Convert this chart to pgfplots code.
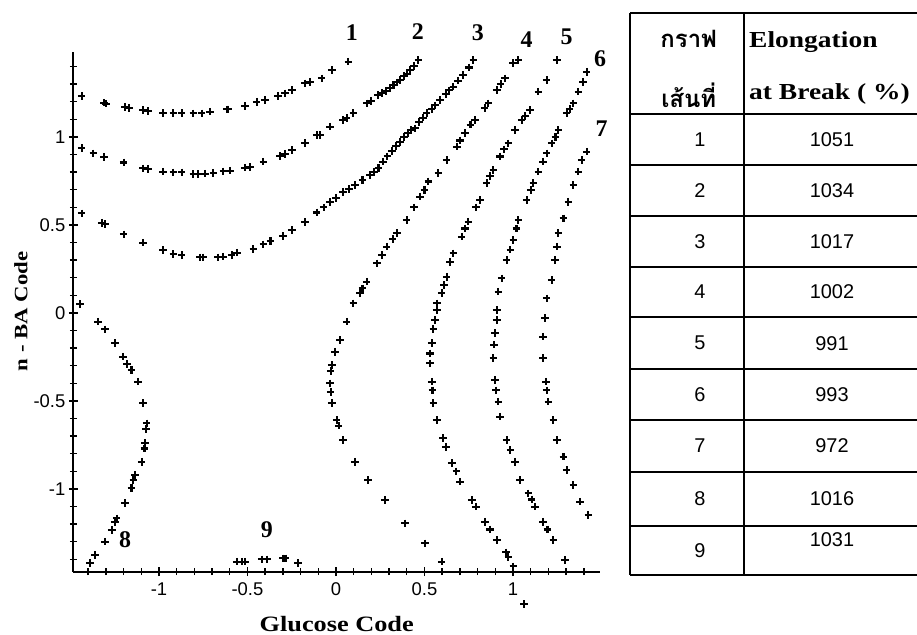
\documentclass[border=0pt]{standalone}
\usepackage{pgfplots}
\pgfplotsset{compat=1.18}
\usepackage{fontspec}
\setmainfont{Liberation Serif}
\newfontfamily\arialf{Liberation Sans}
\newfontfamily\wideserif[FakeStretch=1.2]{Liberation Serif}
\newfontfamily\thaifont[Script=Thai]{Loma}

\pgfplotsset{
  cont/.style={only marks, mark=+, mark size=3.8bp, black, line width=2.1bp,
    mark options={line width=2.1bp}},
}

\begin{document}
\begin{tikzpicture}
\useasboundingbox (0,0) rectangle (917bp,635bp);
\clip (0,0) rectangle (917bp,635bp);
\begin{axis}[
  at={(73.3bp,63.3bp)}, anchor=south west,
  scale only axis, width=526.7bp, height=519.7bp,
  xmin=-1.484, xmax=1.4915, ymin=-1.47, ymax=1.483,
  axis lines=left, axis line style={line width=1.8bp, -},
  xtick={-1,-0.5,0,0.5,1}, xticklabels={-1,-0.5,0,0.5,1},
  ytick={-1,-0.5,0,0.5,1}, yticklabels={-1,-0.5,0,0.5,1},
  minor xtick={-1.4,-1.3,-1.2,-1.1,-0.9,-0.8,-0.7,-0.6,-0.4,-0.3,-0.2,-0.1,0.1,0.2,0.3,0.4,0.6,0.7,0.8,0.9,1.1,1.2,1.3,1.4},
  minor ytick={-1.4,-1.3,-1.2,-1.1,-0.9,-0.8,-0.7,-0.6,-0.4,-0.3,-0.2,-0.1,0.1,0.2,0.3,0.4,0.6,0.7,0.8,0.9,1.1,1.2,1.3,1.4},
  tick align=center, major tick length=9bp, minor tick length=7bp,
  every tick/.style={black, line width=1.4bp},
  tick label style={font=\arialf\fontsize{18.5}{20}\selectfont},
  xticklabel style={yshift=-3bp},
  clip=false,
]
% contour 1 (1051)
\addplot[cont] table {
-1.437 1.233
-1.311 1.195
-1.300 1.190
-1.192 1.172
-1.170 1.166
-1.089 1.153
-1.061 1.148
-0.976 1.135
-0.919 1.135
-0.872 1.135
-0.806 1.134
-0.759 1.134
-0.712 1.144
-0.618 1.157
-0.608 1.157
-0.514 1.176
-0.448 1.200
-0.401 1.210
-0.326 1.233
-0.288 1.248
-0.250 1.267
-0.175 1.305
-0.147 1.314
-0.081 1.333
-0.024 1.381
0.070 1.428
};
% contour 2 (1034)
\addplot[cont] table {
-1.437 0.936
-1.371 0.907
-1.310 0.888
-1.200 0.855
-1.089 0.822
-1.061 0.818
-0.976 0.803
-0.919 0.799
-0.872 0.799
-0.806 0.790
-0.778 0.790
-0.740 0.792
-0.693 0.797
-0.636 0.805
-0.599 0.809
-0.514 0.826
-0.485 0.829
-0.410 0.860
-0.316 0.892
-0.288 0.905
-0.250 0.926
-0.175 0.966
-0.109 1.011
-0.090 1.011
-0.034 1.059
0.041 1.097
0.060 1.108
0.098 1.135
0.173 1.191
0.200 1.205
0.239 1.239
0.260 1.250
0.280 1.262
0.305 1.277
0.325 1.295
0.345 1.310
0.362 1.324
0.385 1.345
0.400 1.360
0.418 1.380
0.440 1.405
0.465 1.438
};
% contour 3 (1017)
\addplot[cont] table {
-1.437 0.566
-1.324 0.513
-1.305 0.505
-1.200 0.447
-1.089 0.400
-0.976 0.358
-0.919 0.335
-0.872 0.330
-0.768 0.316
-0.750 0.316
-0.665 0.316
-0.636 0.320
-0.590 0.330
-0.560 0.343
-0.467 0.362
-0.410 0.390
-0.370 0.410
-0.298 0.4375
-0.250 0.470
-0.175 0.516
-0.109 0.571
-0.070 0.600
-0.034 0.632
0.000 0.655
0.041 0.689
0.075 0.705
0.107 0.727
0.150 0.755
0.192 0.784
0.215 0.800
0.240 0.825
0.267 0.860
0.290 0.890
0.315 0.920
0.340 0.950
0.362 0.973
0.385 1.000
0.405 1.022
0.426 1.040
0.446 1.049
0.470 1.085
0.490 1.110
0.512 1.135
0.540 1.160
0.560 1.180
0.588 1.210
0.620 1.245
0.640 1.265
0.663 1.286
0.690 1.320
0.719 1.352
0.750 1.395
0.776 1.438
};
% contour 4 (1002)
\addplot[cont] table {
1.030 1.438
1.000 1.420
0.955 1.333
0.930 1.300
0.908 1.267
0.861 1.191
0.840 1.165
0.785 1.097
0.760 1.070
0.729 1.021
0.700 0.980
0.682 0.945
0.625 0.869
0.578 0.794
0.522 0.747
0.500 0.700
0.475 0.661
0.440 0.600
0.399 0.528
0.343 0.453
0.320 0.420
0.286 0.377
0.260 0.330
0.230 0.282
0.173 0.178
0.150 0.140
0.136 0.112
0.098 0.055
0.060 -0.049
0.023 -0.153
-0.006 -0.220
-0.024 -0.295
-0.030 -0.330
-0.034 -0.400
-0.030 -0.450
-0.024 -0.513
0.004 -0.608
0.015 -0.640
0.041 -0.722
0.107 -0.845
0.182 -0.949
0.277 -1.0625
0.390 -1.195
0.503 -1.309
0.597 -1.413
};
% contour 5 (991)
\addplot[cont] table {
1.247 1.438
1.190 1.324
1.143 1.258
1.096 1.153
1.070 1.120
1.049 1.097
1.011 1.040
0.974 0.964
0.950 0.930
0.927 0.889
0.889 0.8125
0.870 0.780
0.851 0.737
0.814 0.642
0.790 0.600
0.748 0.519
0.730 0.480
0.710 0.434
0.663 0.339
0.645 0.290
0.625 0.206
0.610 0.160
0.597 0.112
0.569 0.017
0.569 0.055
0.559 -0.040
0.550 -0.090
0.541 -0.172
0.531 -0.230
0.531 -0.286
0.541 -0.390
0.545 -0.440
0.550 -0.513
0.569 -0.608
0.606 -0.712
0.620 -0.760
0.654 -0.854
0.680 -0.900
0.701 -0.958
0.767 -1.0625
0.790 -1.100
0.842 -1.186
0.870 -1.230
0.908 -1.290
0.960 -1.360
0.974 -1.385
1.002 -1.440
1.062 -1.653
};
% contour 6 (993)
\addplot[cont] table {
1.416 1.371
1.397 1.314
1.369 1.258
1.341 1.191
1.320 1.160
1.303 1.135
1.256 1.040
1.240 1.000
1.218 0.964
1.190 0.907
1.170 0.860
1.143 0.803
1.115 0.737
1.100 0.700
1.077 0.642
1.030 0.528
1.020 0.480
1.002 0.415
0.985 0.360
0.964 0.301
0.936 0.197
0.917 0.121
0.908 0.017
0.908 -0.040
0.898 -0.115
0.894 -0.180
0.889 -0.257
0.898 -0.380
0.905 -0.440
0.917 -0.504
0.927 -0.589
0.964 -0.722
0.985 -0.780
1.011 -0.845
1.040 -0.949
1.087 -1.025
1.105 -1.060
1.124 -1.100
1.171 -1.186
1.195 -1.230
1.228 -1.290
1.294 -1.403
};
% contour 7 (972)
\addplot[cont] table {
1.416 0.917
1.388 0.869
1.369 0.803
1.341 0.727
1.313 0.632
1.285 0.538
1.256 0.453
1.247 0.377
1.237 0.301
1.218 0.1875
1.190 0.083
1.181 -0.030
1.171 -0.134
1.171 -0.257
1.186 -0.390
1.190 -0.440
1.200 -0.504
1.228 -0.608
1.247 -0.722
1.285 -0.816
1.303 -0.892
1.341 -0.977
1.379 -1.072
1.426 -1.148
};
% contour 8 (1016)
\addplot[cont] table {
-1.446 0.050
-1.343 -0.049
-1.305 -0.093
-1.249 -0.172
-1.202 -0.248
-1.180 -0.290
-1.155 -0.324
-1.117 -0.390
-1.089 -0.513
-1.070 -0.627
-1.074 -0.660
-1.079 -0.740
-1.082 -0.770
-1.098 -0.845
-1.136 -0.920
-1.145 -0.950
-1.155 -0.996
-1.192 -1.081
-1.239 -1.167
-1.250 -1.190
-1.267 -1.233
-1.305 -1.299
-1.362 -1.375
-1.390 -1.422
};
% contour 9 (1031)
\addplot[cont] table {
-0.561 -1.413
-0.530 -1.413
-0.514 -1.413
-0.420 -1.400
-0.391 -1.400
-0.298 -1.394
-0.285 -1.394
-0.213 -1.422
};
% contour numbers
\begin{scope}[every node/.style={font=\bfseries\fontsize{24}{26}\selectfont, inner sep=0}]
\node at (axis cs:0.089,1.591) {1};
\node at (axis cs:0.463,1.597) {2};
\node at (axis cs:0.802,1.591) {3};
\node at (axis cs:1.077,1.551) {4};
\node at (axis cs:1.303,1.570) {5};
\node at (axis cs:1.492,1.447) {6};
\node at (axis cs:1.500,1.050) {7};
\node at (axis cs:-1.192,-1.290) {8};
\node at (axis cs:-0.390,-1.233) {9};
\end{scope}
\end{axis}

\begin{scope}[x=1bp, y=1bp]
% axis titles
\node[anchor=base, inner sep=0, font=\wideserif\bfseries\fontsize{22}{24}\selectfont] at (336.7,3.5) {Glucose Code};
\node[rotate=90, inner sep=0, font=\wideserif\bfseries\fontsize{19}{21}\selectfont] at (21,323.5) {n - BA Code};

% table of contour values
\draw[line width=2bp]
  (630.3,622.3) -- (920,622.3)
  (630.3,622.3) -- (630.3,60)
  (743.7,622.3) -- (743.7,60)
  (918,622.3) -- (918,60);
\foreach \ty in {520.7,470,419,368.3,317.7,266,215,163.3,109.3,60}
  \draw[line width=2bp] (630.3,\ty) -- (920,\ty);

\node[anchor=base, inner sep=0, font=\thaifont\bfseries\fontsize{24}{26}\selectfont] at (688.7,587) {กราฟ};
\node[anchor=base, inner sep=0, font=\thaifont\bfseries\fontsize{24}{26}\selectfont] at (688.7,527) {เส้นที่};
\node[anchor=base west, inner sep=0, font=\wideserif\bfseries\fontsize{23}{25}\selectfont] at (749,587) {Elongation};
\node[anchor=base west, inner sep=0, font=\wideserif\bfseries\fontsize{23}{25}\selectfont] at (749,535) {at Break ( \%)};

\foreach \n/\v/\ty/\vy in {1/1051/495.3/495.3, 2/1034/444.5/444.5, 3/1017/393.6/393.6,
    4/1002/343/343, 5/991/291.8/291.8, 6/993/240.5/240.5, 7/972/189.1/189.1,
    8/1016/136.3/136.3, 9/1031/84.6/95} {
  \node[inner sep=0, font=\arialf\fontsize{20}{22}\selectfont] at (700,\ty) {\n};
  \node[inner sep=0, font=\arialf\fontsize{20}{22}\selectfont] at (832,\vy) {\v};
}
\end{scope}
\end{tikzpicture}
\end{document}
